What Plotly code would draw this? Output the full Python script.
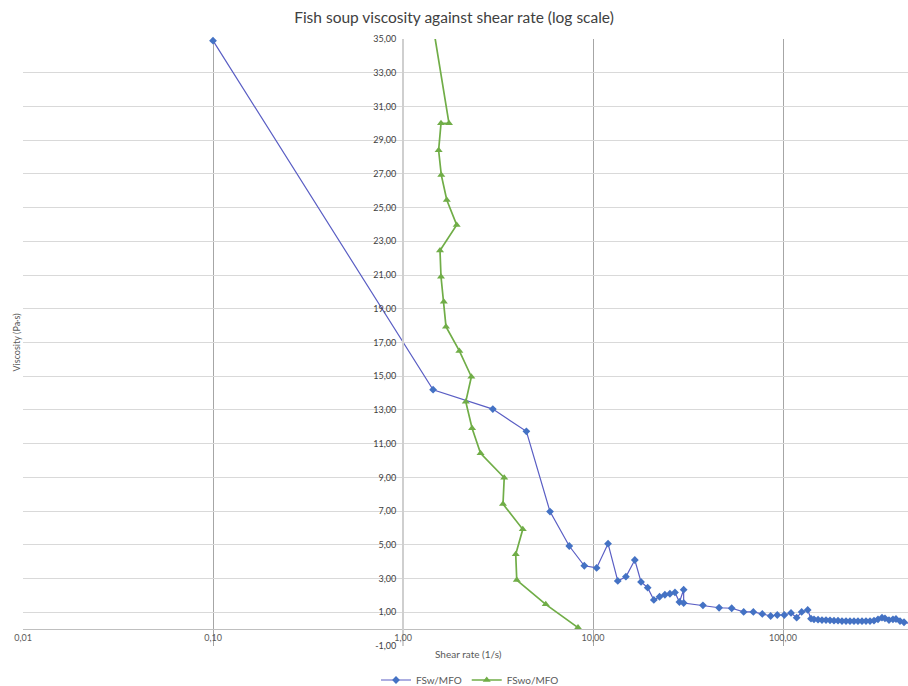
import plotly.graph_objects as go

# ---------------- data ----------------
x_fsw = [0.1, 1.44, 2.97, 4.46, 5.94, 7.5, 9.0, 10.45, 12.0, 13.5, 14.9, 16.6, 17.9,
         19.4, 20.9, 22.4, 23.9, 25.4, 27.0, 28.5, 30.0, 30.0, 37.9, 46.1, 53.7, 62.1,
         69.8, 77.8, 86.1, 93.3, 101.6, 110.2, 118.0, 125.4, 134.9, 140.4, 145.6, 152.9,
         160.4, 168.4, 176.8, 185.5, 194.8, 204.4, 214.6, 225.2, 236.4, 248.1, 260.5,
         273.4, 287.0, 301.2, 316.2, 331.9, 344.1, 361.3, 379.1, 393.2, 412.9, 433.5,
         455.0, 478.0, 500.0]
y_fsw = [34.9, 14.2, 13.05, 11.73, 6.97, 4.93, 3.76, 3.63, 5.07, 2.86, 3.11, 4.10, 2.80,
         2.46, 1.73, 1.92, 2.04, 2.10, 2.18, 1.61, 2.34, 1.55, 1.41, 1.27, 1.24, 1.02,
         1.02, 0.90, 0.78, 0.84, 0.84, 0.96, 0.68, 1.02, 1.14, 0.62, 0.58, 0.56,
         0.54, 0.54, 0.52, 0.50, 0.50, 0.48, 0.48, 0.47, 0.47, 0.47, 0.47,
         0.48, 0.48, 0.50, 0.58, 0.68, 0.64, 0.54, 0.58, 0.60, 0.48, 0.41,
         0.35, 0.33, 0.32]

x_fswo = [1.25, 1.746, 1.585, 1.54, 1.59, 1.70, 1.917, 1.566, 1.585, 1.64, 1.684, 1.98,
          2.29, 2.14, 2.31, 2.56, 3.41, 3.36, 4.27, 3.92, 3.97, 5.64, 8.34]
y_fswo = [40.0, 30.0, 30.0, 28.4, 26.94, 25.45, 23.97, 22.45, 20.9, 19.42, 17.94, 16.5,
          14.97, 13.49, 11.91, 10.43, 8.98, 7.42, 5.92, 4.44, 2.91, 1.47, 0.09]

x_tickvals = [0.01, 0.1, 1, 10, 100]
x_ticktext = ["0,01", "0,10", "1,00", "10,00", "100,00"]
y_tickvals = [-1, 1, 3, 5, 7, 9, 11, 13, 15, 17, 19, 21, 23, 25, 27, 29, 31, 33, 35]
y_ticktext = ["-1,00", "1,00", "3,00", "5,00", "7,00", "9,00", "11,00", "13,00", "15,00",
              "17,00", "19,00", "21,00", "23,00", "25,00", "27,00", "29,00", "31,00",
              "33,00", "35,00"]

FONT = "Lato"
TXT = "#595959"

fig = go.Figure()
fig.add_trace(go.Scatter(
    x=x_fsw, y=y_fsw, name="FSw/MFO", mode="lines+markers",
    line=dict(color="#5A5EC4", width=1.2),
    marker=dict(symbol="diamond", size=6, color="#4472C4"),
    cliponaxis=False,
))
fig.add_trace(go.Scatter(
    x=x_fswo, y=y_fswo, name="FSwo/MFO", mode="lines+markers",
    line=dict(color="#70AD47", width=1.7),
    marker=dict(symbol="triangle-up", size=7, color="#70AD47"),
))

W, H = 908, 686
L, R, T, B = 23, 0, 39, 40
pw = W - L - R
ph = H - T - B

fig.update_layout(
    width=W, height=H,
    margin=dict(l=L, r=R, t=T, b=B, autoexpand=False),
    paper_bgcolor="white", plot_bgcolor="white",
    font=dict(family=FONT, color=TXT, size=10),
    title=dict(text="Fish soup viscosity against shear rate (log scale)",
               x=(454) / W, xanchor="center", y=1 - 18 / H, yanchor="middle",
               font=dict(family=FONT, size=15.5, color="#404040")),
    showlegend=True,
    legend=dict(orientation="h", xref="container", yref="container",
                x=470 / W, xanchor="center",
                y=1 - 680 / H, yanchor="middle",
                font=dict(size=10, color=TXT), bgcolor="rgba(0,0,0,0)"),
    xaxis=dict(type="log", range=[-2, -2 + pw / 190.0],
               anchor="free", position=1 / 36,
               tickvals=x_tickvals, ticktext=x_ticktext,
               showgrid=True, gridcolor="#A6A6A6", gridwidth=1,
               showline=True, linecolor="#BFBFBF", linewidth=1,
               ticks="", tickfont=dict(size=9, color=TXT),
               zeroline=False),
    yaxis=dict(range=[-1, 35], anchor="free", position=(403 - L) / pw,
               tickvals=y_tickvals, ticktext=y_ticktext,
               showgrid=True, gridcolor="#D9D9D9", gridwidth=1,
               showline=True, linecolor="#CFCFCF", linewidth=2,
               ticks="outside", ticklen=4, tickcolor="rgba(0,0,0,0)",
               tickfont=dict(size=9, color="#404040"),
               zeroline=False),
)

fig.add_annotation(text="Viscosity (Pa·s)", xref="paper", yref="paper",
                   x=(16 - L) / pw, y=0.5, textangle=-90, showarrow=False,
                   xanchor="center", yanchor="middle",
                   font=dict(size=9, color=TXT, family=FONT))
fig.add_annotation(text="Shear rate (1/s)", xref="paper", yref="paper",
                   x=(468 - L) / pw, y=(ph - (654 - T)) / ph, showarrow=False,
                   xanchor="center", yanchor="middle",
                   font=dict(size=10, color=TXT, family=FONT))

fig.write_html("out.html")
